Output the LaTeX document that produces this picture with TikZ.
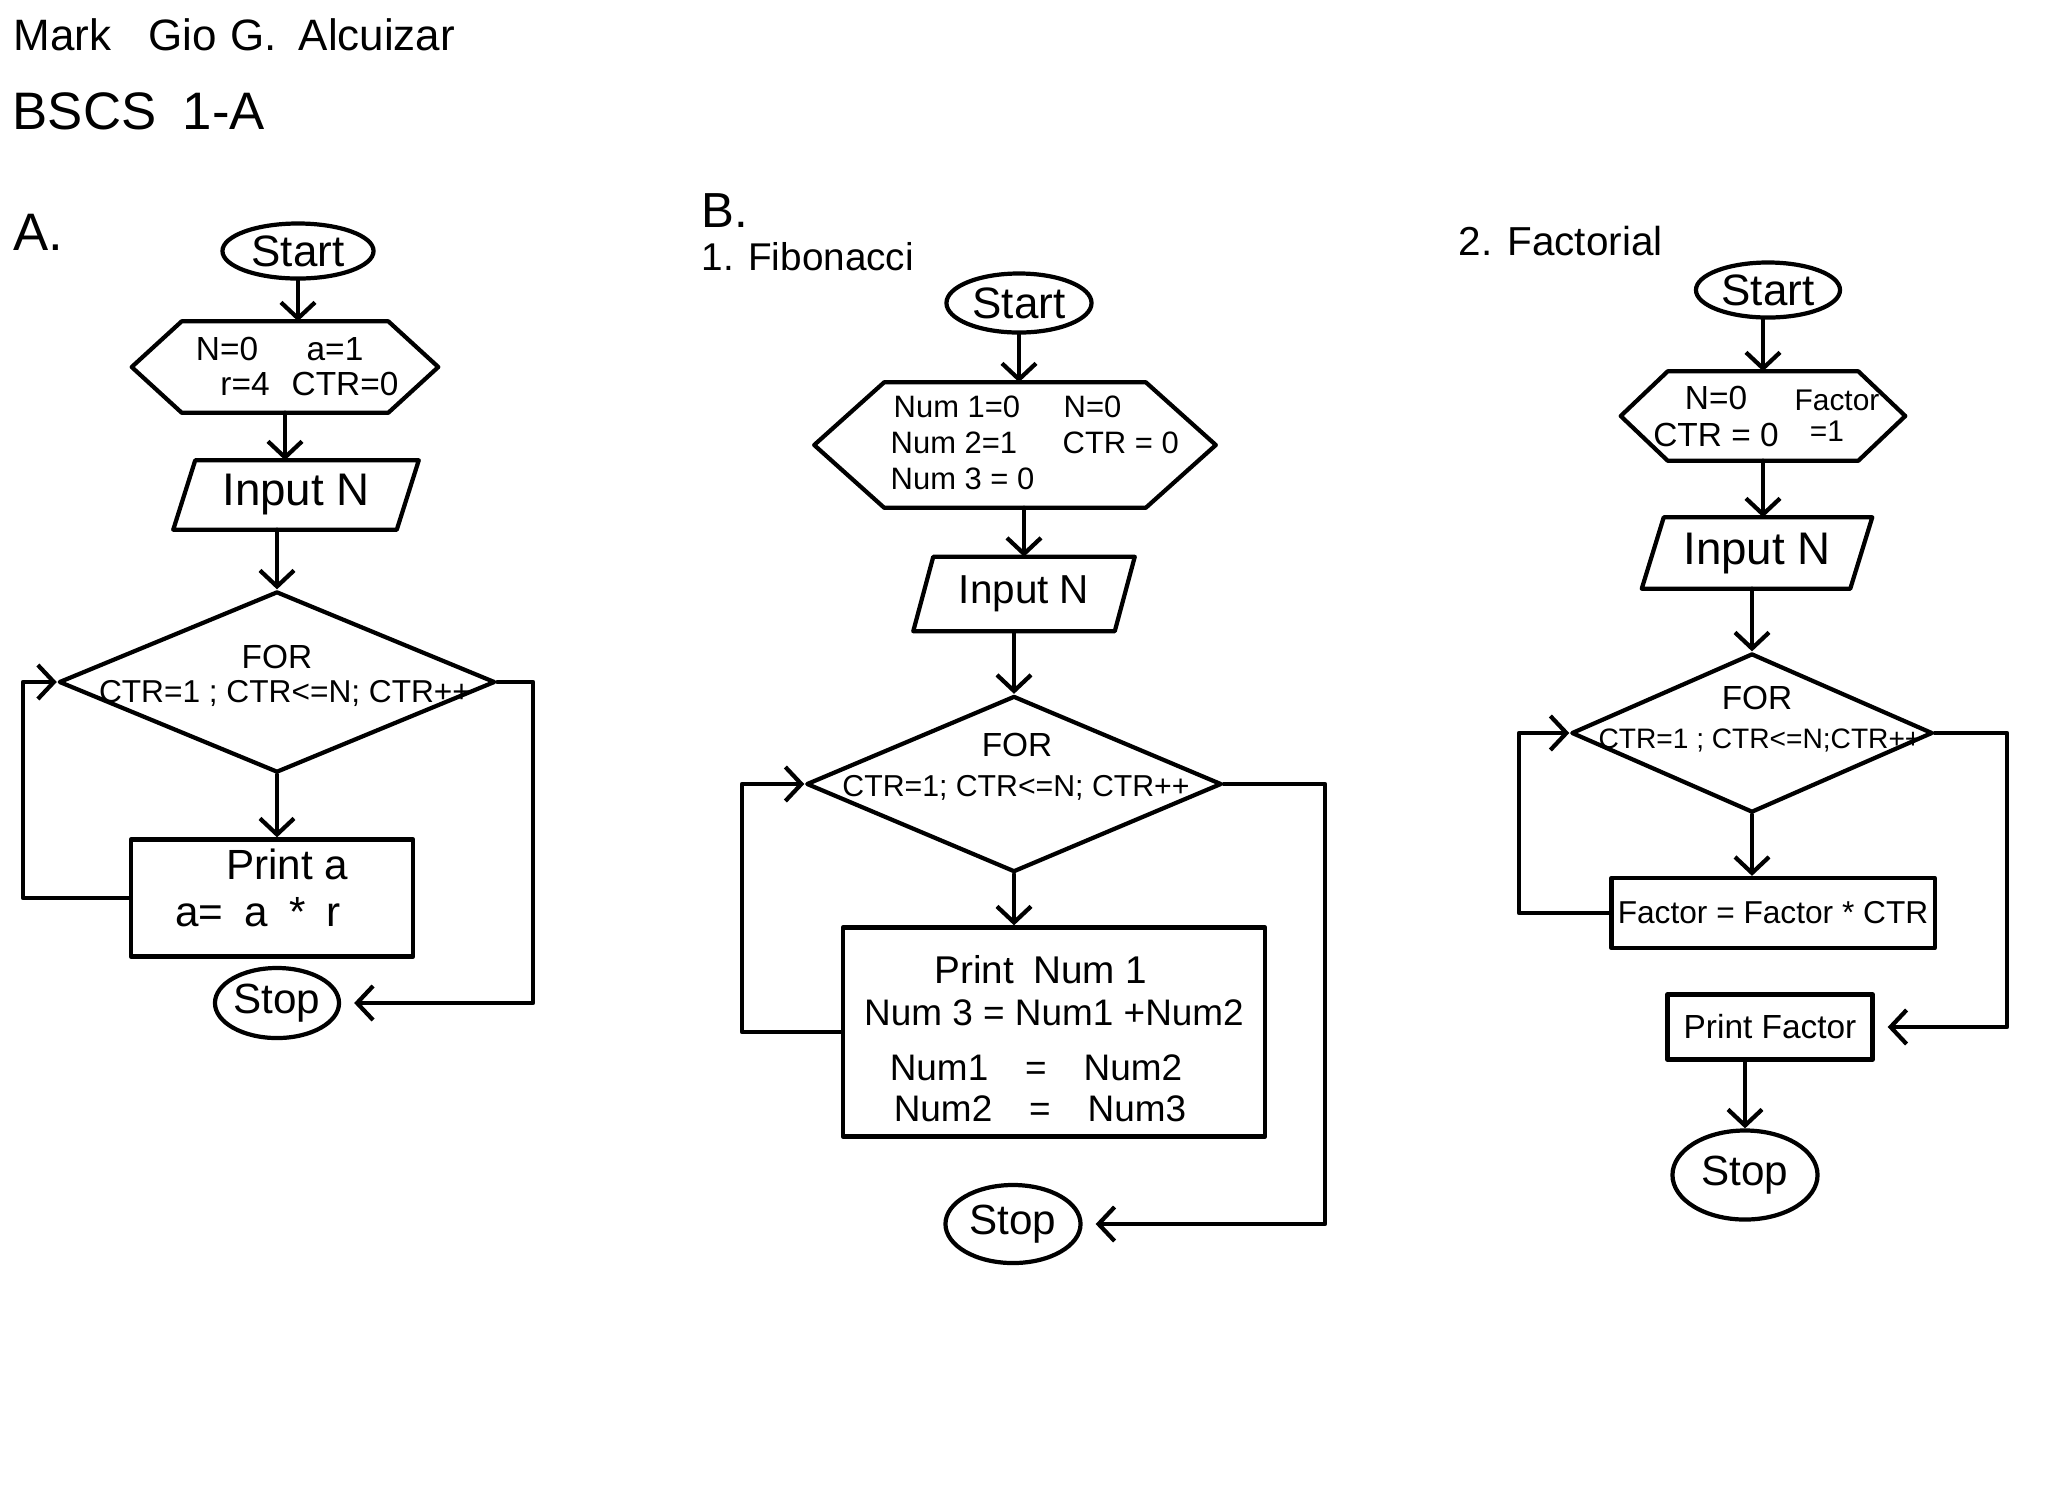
\documentclass[tikz,border=0pt]{standalone}
\usepackage{fontspec}
\setmainfont{Liberation Sans}
\usetikzlibrary{shapes.geometric,arrows.meta,calc}
\newcommand\fsz[1]{\fontsize{#1}{#1}\selectfont}
% hexagon outline around a placeholder node: #1 node, #2 point depth
\newcommand\hexoutline[2]{\draw[pen] (#1.west) -- ($(#1.north west)+(#2,0)$) -- ($(#1.north east)+(-#2,0)$) -- (#1.east) -- ($(#1.south east)+(-#2,0)$) -- ($(#1.south west)+(#2,0)$) -- cycle;}
% parallelogram outline around a placeholder node: #1 node, #2 slant
\newcommand\slantoutline[2]{\draw[pen] ($(#1.north west)+(#2,0)$) -- (#1.north east) -- ($(#1.south east)+(-#2,0)$) -- (#1.south west) -- cycle;}
\begin{document}
\begin{tikzpicture}[x=0.01cm,y=-0.01cm,
  pen/.style={line width=1.2pt,line cap=round,line join=round},
  flow/.style={pen,-{Straight Barb[length=1.6mm,width=3.4mm]}},
  term/.style={ellipse,draw,pen,inner sep=0pt},
  stepbox/.style={rectangle,draw,pen,inner sep=0pt},
  slot/.style={rectangle,inner sep=0pt},
  decision/.style={diamond,draw,pen,inner sep=0pt},
  txt/.style={inner sep=0pt},
]
\useasboundingbox[fill=white] (0,0) rectangle (2048,1499);

% header
\node[txt,anchor=base west] (hname1) at (13,50) {\fsz{12.5}Mark};
\node[txt,anchor=base west] (hname2) at (148,50) {\fsz{12.5}Gio};
\node[txt,anchor=base west] (hname3) at (230,50) {\fsz{12.5}G.};
\node[txt,anchor=base west] (hname4) at (298,50) {\fsz{12.5}Alcuizar};
\node[txt,anchor=base west] (hsec1) at (12,129) {\fsz{15}BSCS};
\node[txt,anchor=base west] (hsec2) at (182,129) {\fsz{15}1-A};
\node[txt,anchor=base west] (partA) at (13,250) {\fsz{15}A.};
\node[txt,anchor=base west] (partB) at (701,227) {\fsz{14}B.};
\node[txt,anchor=base west] (titleB) at (701,270) {\fsz{11}1. Fibonacci};
\node[txt,anchor=base west] (titleC) at (1458,255) {\fsz{11.5}2. Factorial};

% ---------- A: geometric sequence ----------
\node[term,minimum width=1.51cm,minimum height=0.55cm] (startA) at (298,251) {\fsz{12.5}Start};
\node[slot,minimum width=3.05cm,minimum height=0.90cm] (initA) at (285,367) {};
\hexoutline{initA}{50}
\node[txt] (initA1) at (227,349) {\fsz{9.5}N=0};
\node[txt] (initA2) at (335,349) {\fsz{9.5}a=1};
\node[txt] (initA3) at (245,384) {\fsz{9.5}r=4};
\node[txt] (initA4) at (345,384) {\fsz{9.5}CTR=0};
\node[slot,minimum width=2.44cm,minimum height=0.68cm] (inA) at (296,495) {\fsz{13}Input N};
\slantoutline{inA}{22}
\node[decision,minimum width=4.36cm,minimum height=1.81cm] (loopA) at (277,682) {};
\node[txt] (loopA1) at (277,657) {\fsz{9.5}FOR};
\node[txt] (loopA2) at (285,693) {\fsz{9}CTR=1 ; CTR<=N; CTR++};
\node[stepbox,minimum width=2.82cm,minimum height=1.17cm] (bodyA) at (272,898) {};
\node[txt] (bodyA1) at (287,864) {\fsz{12}Print a};
\node[txt] (bodyA2) at (258,912) {\fsz{12}a=\enspace a\enspace *\enspace r};
\node[term,minimum width=1.24cm,minimum height=0.70cm] (stopA) at (277,1003) {\fsz{12}Stop};
\coordinate (backA) at (23,0);
\coordinate (exitA) at (533,0);

\draw[flow] (startA.south) -- (startA.south |- initA.north);
\draw[flow] (initA.south) -- (initA.south |- inA.north);
\draw[flow] (inA.south -| loopA.north) -- (loopA.north);
\draw[flow] (loopA.south) -- (loopA.south |- bodyA.north);
\draw[flow] (bodyA.west) -- (backA |- bodyA.west) -- (backA |- loopA.west) -- (loopA.west);
\draw[flow,shorten >=1.3mm] (loopA.east) -- (exitA |- loopA.east) -- (exitA |- stopA.east) -- (stopA.east);

% ---------- B: Fibonacci ----------
\node[term,minimum width=1.45cm,minimum height=0.59cm] (startB) at (1019,303) {\fsz{12.5}Start};
\node[slot,minimum width=4.00cm,minimum height=1.24cm] (initB) at (1015,445) {};
\hexoutline{initB}{70}
\node[txt,anchor=west] (initB1) at (893,407) {\fsz{8.8}Num 1=0};
\node[txt,anchor=west] (initB2) at (1063,407) {\fsz{8.8}N=0};
\node[txt,anchor=west] (initB3) at (890,443) {\fsz{8.8}Num 2=1};
\node[txt,anchor=west] (initB4) at (1062,443) {\fsz{8.8}CTR = 0};
\node[txt,anchor=west] (initB5) at (890,479) {\fsz{8.8}Num 3 = 0};
\node[slot,minimum width=2.20cm,minimum height=0.73cm] (inB) at (1024,594) {\fsz{11.5}Input N};
\slantoutline{inB}{20}
\node[decision,minimum width=4.15cm,minimum height=1.76cm] (loopB) at (1014,784) {};
\node[txt] (loopB1) at (1017,745) {\fsz{9.5}FOR};
\node[txt] (loopB2) at (1016,788) {\fsz{8.6}CTR=1; CTR<=N; CTR++};
\node[stepbox,minimum width=4.22cm,minimum height=2.09cm] (bodyB) at (1054,1032) {};
\node[txt] (bodyB1) at (1041,970) {\fsz{11}Print\enspace Num 1};
\node[txt] (bodyB2) at (1054,1013) {\fsz{10.5}Num 3 = Num1 +Num2};
\node[txt] (bodyB3) at (1036,1068) {\fsz{10.5}Num1\quad=\quad Num2};
\node[txt] (bodyB4) at (1040,1109) {\fsz{10.5}Num2\quad=\quad Num3};
\node[term,minimum width=1.35cm,minimum height=0.78cm] (stopB) at (1013,1224) {\fsz{12}Stop};
\coordinate (backB) at (742,0);
\coordinate (exitB) at (1325,0);

\draw[flow] (startB.south) -- (startB.south |- initB.north);
\draw[flow] (initB.south -| inB.north) -- (inB.north);
\draw[flow] (inB.south -| loopB.north) -- (loopB.north);
\draw[flow] (loopB.south) -- (loopB.south |- bodyB.north);
\draw[flow] (bodyB.west) -- (backB |- bodyB.west) -- (backB |- loopB.west) -- (loopB.west);
\draw[flow,shorten >=1.3mm] (loopB.east) -- (exitB |- loopB.east) -- (exitB |- stopB.east) -- (stopB.east);

% ---------- C: Factorial ----------
\node[term,minimum width=1.44cm,minimum height=0.55cm] (startC) at (1768,290) {\fsz{12.5}Start};
\node[slot,minimum width=2.83cm,minimum height=0.88cm] (initC) at (1763,416) {};
\hexoutline{initC}{47}
\node[txt] (initC1) at (1716,398) {\fsz{9.5}N=0};
\node[txt] (initC2) at (1837,400) {\fsz{8.5}Factor};
\node[txt] (initC3) at (1716,435) {\fsz{9.5}CTR = 0};
\node[txt] (initC4) at (1827,431) {\fsz{8.5}=1};
\node[slot,minimum width=2.29cm,minimum height=0.70cm] (inC) at (1757,553) {\fsz{13}Input N};
\slantoutline{inC}{22}
\node[decision,minimum width=3.61cm,minimum height=1.59cm] (loopC) at (1752,733) {};
\node[txt] (loopC1) at (1757,698) {\fsz{9.5}FOR};
\node[txt] (loopC2) at (1760,740) {\fsz{8}CTR=1 ; CTR<=N;CTR++};
\node[stepbox,minimum width=3.23cm,minimum height=0.70cm] (bodyC) at (1773,913) {\fsz{9}Factor = Factor * CTR};
\node[stepbox,minimum width=2.05cm,minimum height=0.65cm] (outC) at (1770,1027) {\fsz{9.5}Print Factor};
\node[term,minimum width=1.45cm,minimum height=0.89cm] (stopC) at (1745,1175) {\fsz{12}Stop};
\coordinate (backC) at (1519,0);
\coordinate (exitC) at (2007,0);

\draw[flow] (startC.south -| initC.north) -- (initC.north);
\draw[flow] (initC.south) -- (initC.south |- inC.north);
\draw[flow] (inC.south -| loopC.north) -- (loopC.north);
\draw[flow] (loopC.south) -- (loopC.south |- bodyC.north);
\draw[flow] (bodyC.west) -- (backC |- bodyC.west) -- (backC |- loopC.west) -- (loopC.west);
\draw[flow,shorten >=1.3mm] (loopC.east) -- (exitC |- loopC.east) -- (exitC |- outC.east) -- (outC.east);
\draw[flow] (outC.south -| stopC.north) -- (stopC.north);
\end{tikzpicture}
\end{document}
